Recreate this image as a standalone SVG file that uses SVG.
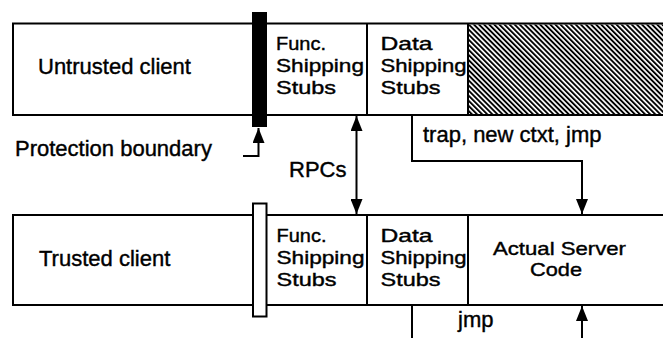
<svg xmlns="http://www.w3.org/2000/svg" width="663" height="338" viewBox="0 0 663 338">
<style>
text{font-family:"Liberation Sans",Arial,Helvetica,sans-serif;font-size:22px;fill:#000;stroke:#000;stroke-width:0.4}
text.s{font-size:19px}
.ln{fill:none;stroke:#000;stroke-width:2}
.cn{fill:none;stroke:#000;stroke-width:2}
</style>
<defs>
<pattern id="hatch" patternUnits="userSpaceOnUse" width="3.6" height="8" patternTransform="rotate(-45)">
<rect x="0" y="0" width="1.9" height="8" fill="#000"/>
</pattern>
<marker id="ahs" markerUnits="userSpaceOnUse" markerWidth="16" markerHeight="12" viewBox="0 0 16 12" refX="15" refY="6" orient="auto-start-reverse">
<path d="M0,0 L15,6 L0,12 Z" fill="#000"/>
</marker>
</defs>
<rect width="663" height="338" fill="#fff"/>

<g id="untrusted-row">
<rect x="468" y="24.5" width="195" height="89.5" fill="url(#hatch)"/>
<path class="ln" d="M663,23.5 H13 V115 H663"/>
<line class="ln" x1="367" y1="23.5" x2="367" y2="115"/>
<line class="ln" x1="468" y1="23.5" x2="468" y2="115"/>
</g>
<g id="untrusted-client"><text x="38" y="74">Untrusted client</text></g>
<g id="protection-bar"><rect x="252" y="12" width="15" height="115" fill="#000"/></g>
<g id="top-func-stubs"><text class="s" x="276" y="49.5" textLength="50" lengthAdjust="spacingAndGlyphs">Func.</text><text class="s" x="276" y="71.5" textLength="88" lengthAdjust="spacingAndGlyphs">Shipping</text><text class="s" x="276" y="93.5" textLength="60" lengthAdjust="spacingAndGlyphs">Stubs</text></g>
<g id="top-data-stubs"><text class="s" x="380.5" y="49.5" textLength="52" lengthAdjust="spacingAndGlyphs">Data</text><text class="s" x="380.5" y="71.5" textLength="86" lengthAdjust="spacingAndGlyphs">Shipping</text><text class="s" x="380.5" y="93.5" textLength="60" lengthAdjust="spacingAndGlyphs">Stubs</text></g>

<g id="trusted-row">
<path class="ln" d="M663,215 H13 V305 H663"/>
<line class="ln" x1="367" y1="215" x2="367" y2="305"/>
<line class="ln" x1="468" y1="215" x2="468" y2="305"/>
</g>
<g id="trusted-client"><text x="39" y="266">Trusted client</text></g>
<g id="trusted-bar"><rect x="253" y="203.5" width="13.5" height="113" fill="#fff" stroke="#000" stroke-width="2"/></g>
<g id="bottom-func-stubs"><text class="s" x="276.5" y="241.5" textLength="50" lengthAdjust="spacingAndGlyphs">Func.</text><text class="s" x="276.5" y="263.5" textLength="88" lengthAdjust="spacingAndGlyphs">Shipping</text><text class="s" x="276.5" y="285.5" textLength="60" lengthAdjust="spacingAndGlyphs">Stubs</text></g>
<g id="bottom-data-stubs"><text class="s" x="380.5" y="241.5" textLength="52" lengthAdjust="spacingAndGlyphs">Data</text><text class="s" x="380.5" y="263.5" textLength="86" lengthAdjust="spacingAndGlyphs">Shipping</text><text class="s" x="380.5" y="285.5" textLength="60" lengthAdjust="spacingAndGlyphs">Stubs</text></g>
<g id="actual-server-code"><text class="s" x="493" y="255" textLength="133" lengthAdjust="spacingAndGlyphs">Actual Server</text><text class="s" x="530" y="276" textLength="52" lengthAdjust="spacingAndGlyphs">Code</text></g>

<g id="connectors">
<path class="cn" d="M243,156 H258.5 V128" marker-end="url(#ahs)"/>
<path class="cn" d="M356.5,116 V214" marker-start="url(#ahs)" marker-end="url(#ahs)"/>
<path class="cn" d="M412,115 V161 H582 V214" marker-end="url(#ahs)"/>
<path class="cn" d="M412,305 V338"/>
<path class="cn" d="M582,338 V306" marker-end="url(#ahs)"/>
</g>
<g id="labels">
<text x="15" y="156">Protection boundary</text>
<text x="289" y="177">RPCs</text>
<text x="423" y="142">trap, new ctxt, jmp</text>
<text x="458" y="327">jmp</text>
</g>
</svg>
